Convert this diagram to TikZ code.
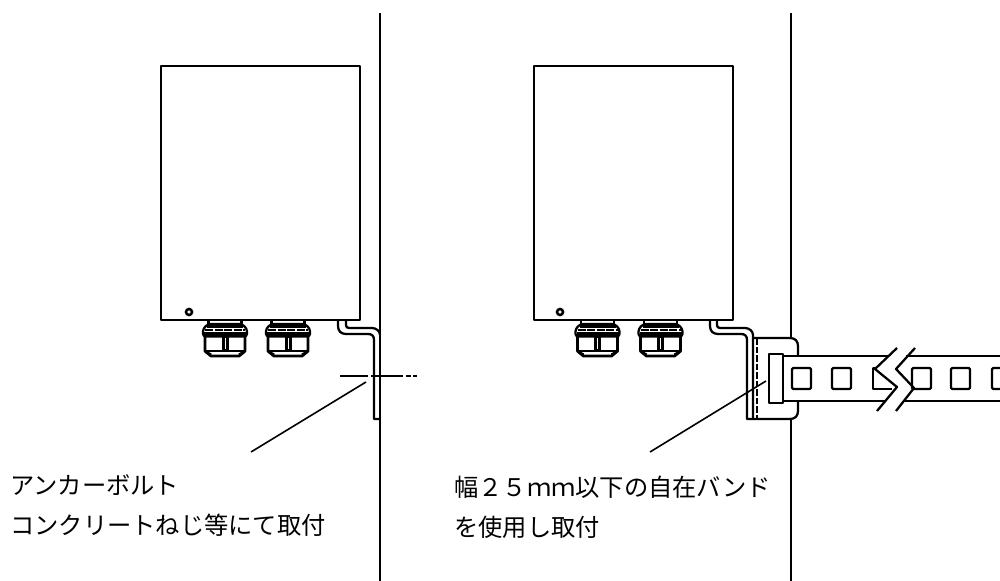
\documentclass[tikz,border=0pt]{standalone}
\usepackage{fontspec}
\newfontfamily\cjk{Noto Sans CJK JP}
\tikzset{
  ln/.style={line width=1.7pt,line cap=butt,line join=round},
  thin ln/.style={line width=1.2pt},
  lbl/.style={anchor=west,inner sep=0pt,font=\cjk\fontsize{18.2pt}{20pt}\selectfont},
}
\newcommand{\gland}[1]{%
 \begin{scope}[shift={(#1,0)}]
  \draw[ln] (-16.5,320) -- (-16.5,324) (16.5,320) -- (16.5,324);
  \draw[ln,rounded corners=2pt] (-22,336.5) -- (-22,329) -- (-17,324) -- (17,324) -- (22,329) -- (22,336.5) -- cycle;
  \draw[line width=2.6pt] (-18,326) -- (18,326);
  \draw[line width=.8pt,dash pattern=on 6pt off 1.2pt] (-20,330) -- (20,330);
  \draw[line width=2.4pt] (-21,334) -- (21,334);
  \draw[line width=2.2pt,line join=round] (-20,336) -- (-20,351) -- (-14,356) -- (14,356) -- (20,351) -- (20,336);
  \draw[line width=1.4pt] (-19,350.8) -- (19,350.8);
  \fill (-3.5,336) rectangle (3.5,351);
  \draw[white,line width=.5pt] (0,338) -- (0,349);
  \draw[line width=1.8pt] (-19,352) -- (-14,354.5) (19,352) -- (14,354.5);
 \end{scope}}
\begin{document}
\begin{tikzpicture}[x=0.75pt,y=-0.75pt]
\useasboundingbox (0,0) rectangle (1000,581);
% walls
\coordinate (w1t) at (380,13); \coordinate (w1b) at (380,581);
\draw[ln] (w1t) -- (w1b);
\coordinate (w2t) at (791,13); \coordinate (w2m) at (791,338);
\coordinate (w2n) at (791,419); \coordinate (w2b) at (791,581);
\draw[ln] (w2t) -- (w2m) (w2n) -- (w2b);
% left enclosure
\draw[ln] (161,66) rectangle (360,320);
\draw[line width=1.9pt] (189,312) circle (3);
\gland{225} \gland{288}
% left bracket
\draw[ln] (338,320) -- (338,326) .. controls (338,331) and (341,334) .. (346,334) -- (368,334)
  .. controls (372,334) and (374,336) .. (374,340) -- (374,419) -- (380,419);
\draw[ln] (346,320) -- (346,325) .. controls (346,327) and (347,328) .. (349,328) -- (372,328)
  .. controls (376,328) and (380,331) .. (380,335);
% centre line
\draw[ln] (340,376) -- (368,376) (371,376) -- (403,376) (406,376) -- (411,376) (413,376) -- (417,376);
% left leader
\coordinate (a1) at (366,382); \coordinate (a2) at (251,452);
\draw[thin ln] (a1) -- (a2);
% right enclosure
\draw[ln] (534,66) rectangle (733,320);
\draw[line width=1.9pt] (560,312) circle (3);
\gland{597.5} \gland{660.5}
% right bracket
\draw[ln] (710,320) -- (710,326) .. controls (710,331) and (713,334) .. (718,334) -- (741,334)
  .. controls (745,334) and (747,336) .. (747,340) -- (747,419) -- (753,419);
\draw[ln] (717,320) -- (717,325) .. controls (717,327) and (718,328) .. (720,328) -- (745,328)
  .. controls (749,328) and (753,331) .. (753,335) -- (753,419);
\draw[line width=1.3pt,dash pattern=on 5pt off 1.4pt] (757,338) -- (757,419);
% band holder plate
\draw[ln] (753,338) -- (790,338) .. controls (795,338) and (798,341) .. (798,346) -- (798,356);
\draw[ln] (798,401) -- (798,411) .. controls (798,416) and (795,419) .. (790,419) -- (753,419);
% band
\draw[ln] (769,354) rectangle (783,403);
\draw[ln] (783,356) -- (889,356) (783,401) -- (885,401);
\draw[ln] (906,356) -- (1000,356) (904,401) -- (1000,401);
\foreach \x in {792,832,912,951}{\draw[ln,rounded corners=1pt] (\x,368) rectangle (\x+19,389);}
\draw[ln,rounded corners=1pt] (1000,368) -- (992,368) -- (992,389) -- (1000,389);
\draw[ln] (875,368.5) -- (873,368.5) -- (873,389) -- (892,389);
% break lines
\coordinate (z1) at (897,348); \coordinate (z2) at (875,369); \coordinate (z3) at (897,387); \coordinate (z4) at (877,411);
\coordinate (y1) at (915,348); \coordinate (y2) at (896,369); \coordinate (y3) at (914,388); \coordinate (y4) at (896,411);
\draw[ln] (z1) -- (z2) -- (z3) -- (z4);
\draw[ln] (y1) -- (y2) -- (y3) -- (y4);
% right leader
\coordinate (b1) at (766,381); \coordinate (b2) at (650,452);
\draw[thin ln] (b1) -- (b2);
% labels
\node[lbl] (t1) at (10,485) {アンカーボルト};
\node[lbl] (t2) at (10,525) {コンクリートねじ等にて取付};
\node[lbl] (t3) at (454,487) {幅２５ｍｍ以下の自在バンド};
\node[lbl] (t4) at (454,527) {を使用し取付};
\end{tikzpicture}
\end{document}
